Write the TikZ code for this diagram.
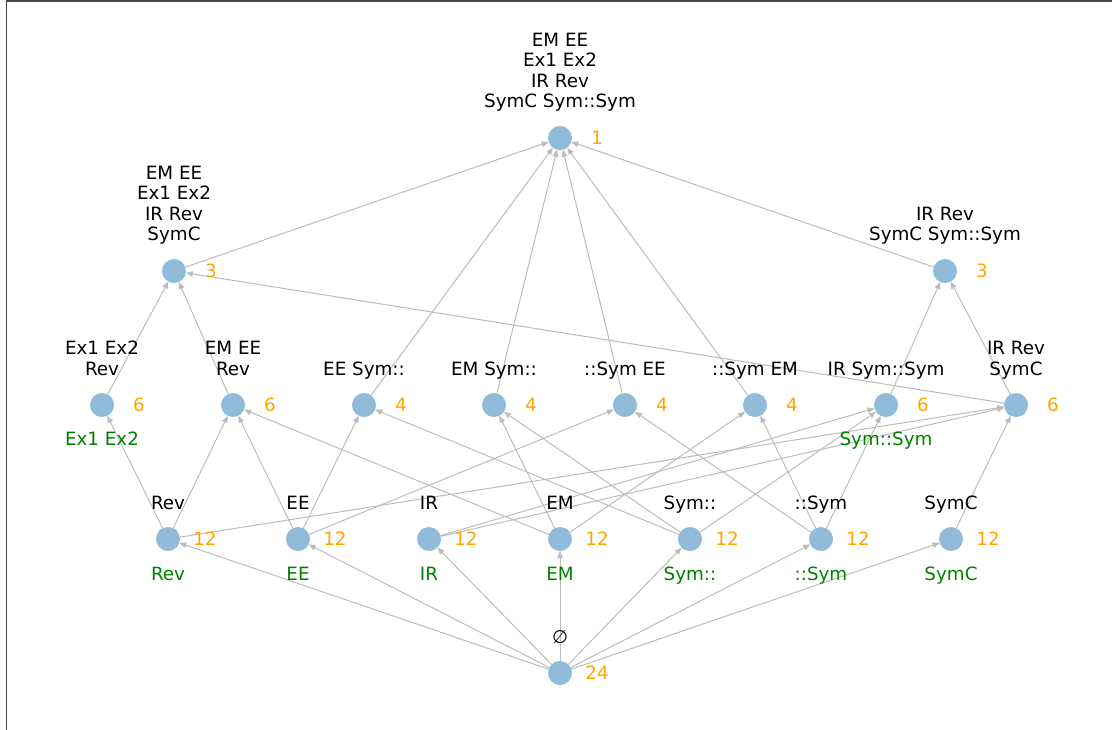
\documentclass[tikz,border=0pt]{standalone}
\usepackage{fontspec}
\setmainfont{DejaVu Sans}
\usetikzlibrary{arrows.meta}
\definecolor{nodeblue}{RGB}{144,187,217}
\definecolor{edgegray}{RGB}{188,188,188}
\definecolor{numorange}{RGB}{255,165,0}
\definecolor{lblgreen}{RGB}{0,128,0}
\definecolor{framegray}{RGB}{70,70,70}
\tikzset{
  lat/.style={circle, fill=nodeblue, draw=none, minimum size=24pt, inner sep=0pt, outer sep=0pt},
  edge/.style={draw=edgegray, line width=1pt, -{Triangle[length=7pt,width=5.5pt]}},
  toplbl/.style={anchor=south, align=center, inner sep=0pt, font=\fontsize{18.3}{20.5}\selectfont, execute at end node={\vphantom{y}}},
  cnt/.style={anchor=center, inner sep=0pt, text=numorange, font=\fontsize{18.3}{20.5}\selectfont},
  newlbl/.style={anchor=base, inner sep=0pt, text=lblgreen, font=\fontsize{18.3}{20.5}\selectfont},
}
\begin{document}
\begin{tikzpicture}[x=1pt,y=-1pt]
\useasboundingbox (0,0) rectangle (1112,729);
\begin{scope}
\clip (0,0) rectangle (1112,729);
\draw[framegray, line width=1.3pt] (6.5,1) rectangle (1140,760);
\end{scope}
% nodes
\node[lat] (T) at (560,138) {};
\node[lat] (La) at (174,271) {};
\node[lat] (Lb) at (945,271) {};
\node[lat] (A) at (102,405) {};
\node[lat] (B) at (233,405) {};
\node[lat] (C) at (364,405) {};
\node[lat] (D) at (494,405) {};
\node[lat] (E) at (625,405) {};
\node[lat] (F) at (755,405) {};
\node[lat] (G) at (886,405) {};
\node[lat] (H) at (1016,405) {};
\node[lat] (Rev) at (168,539) {};
\node[lat] (EE) at (298,539) {};
\node[lat] (IR) at (429,539) {};
\node[lat] (EM) at (560,539) {};
\node[lat] (SymL) at (690,539) {};
\node[lat] (SymR) at (821,539) {};
\node[lat] (SymC) at (951,539) {};
\node[lat] (Bot) at (560,673) {};
% edges
\foreach \s/\t in {Bot/Rev,Bot/EE,Bot/IR,Bot/EM,Bot/SymL,Bot/SymR,Bot/SymC,
  Rev/A,Rev/B,Rev/H,EE/B,EE/C,EE/E,IR/G,IR/H,EM/B,EM/D,EM/F,
  SymL/C,SymL/D,SymL/G,SymR/E,SymR/F,SymR/G,SymC/H,
  A/La,B/La,H/La,G/Lb,H/Lb,C/T,D/T,E/T,F/T,La/T,Lb/T}
  \draw[edge] (\s) -- (\t);
% black labels
\node[toplbl] (tT) at (560,112) {EM EE\\Ex1 Ex2\\IR Rev\\SymC Sym::Sym};
\node[toplbl] (tLa) at (174,245) {EM EE\\Ex1 Ex2\\IR Rev\\SymC};
\node[toplbl] (tLb) at (945,245) {IR Rev\\SymC Sym::Sym};
\node[toplbl] (tA) at (102,379) {Ex1 Ex2\\Rev};
\node[toplbl] (tB) at (233,379) {EM EE\\Rev};
\node[toplbl] (tC) at (364,379) {EE Sym::};
\node[toplbl] (tD) at (494,379) {EM Sym::};
\node[toplbl] (tE) at (625,379) {::Sym EE};
\node[toplbl] (tF) at (755,379) {::Sym EM};
\node[toplbl] (tG) at (886,379) {IR Sym::Sym};
\node[toplbl] (tH) at (1016,379) {IR Rev\\SymC};
\node[toplbl] (tRev) at (168,513) {Rev};
\node[toplbl] (tEE) at (298,513) {EE};
\node[toplbl] (tIR) at (429,513) {IR};
\node[toplbl] (tEM) at (560,513) {EM};
\node[toplbl] (tSymL) at (690,513) {Sym::};
\node[toplbl] (tSymR) at (821,513) {::Sym};
\node[toplbl] (tSymC) at (951,513) {SymC};
\node[toplbl] (tBot) at (560,647) {∅};
% counts
\node[cnt] (cT) at (597,138) {1};
\node[cnt] (cLa) at (211,271) {3};
\node[cnt] (cLb) at (982,271) {3};
\node[cnt] (cA) at (139,405) {6};
\node[cnt] (cB) at (270,405) {6};
\node[cnt] (cC) at (401,405) {4};
\node[cnt] (cD) at (531,405) {4};
\node[cnt] (cE) at (662,405) {4};
\node[cnt] (cF) at (792,405) {4};
\node[cnt] (cG) at (923,405) {6};
\node[cnt] (cH) at (1053,405) {6};
\node[cnt] (cRev) at (205,539) {12};
\node[cnt] (cEE) at (335,539) {12};
\node[cnt] (cIR) at (466,539) {12};
\node[cnt] (cEM) at (597,539) {12};
\node[cnt] (cSymL) at (727,539) {12};
\node[cnt] (cSymR) at (858,539) {12};
\node[cnt] (cSymC) at (988,539) {12};
\node[cnt] (cBot) at (597,673) {24};
% green labels
\node[newlbl] (gA) at (102,445) {Ex1 Ex2};
\node[newlbl] (gG) at (886,445) {Sym::Sym};
\node[newlbl] (gRev) at (168,580) {Rev};
\node[newlbl] (gEE) at (298,580) {EE};
\node[newlbl] (gIR) at (429,580) {IR};
\node[newlbl] (gEM) at (560,580) {EM};
\node[newlbl] (gSymL) at (690,580) {Sym::};
\node[newlbl] (gSymR) at (821,580) {::Sym};
\node[newlbl] (gSymC) at (951,580) {SymC};
\end{tikzpicture}
\end{document}
